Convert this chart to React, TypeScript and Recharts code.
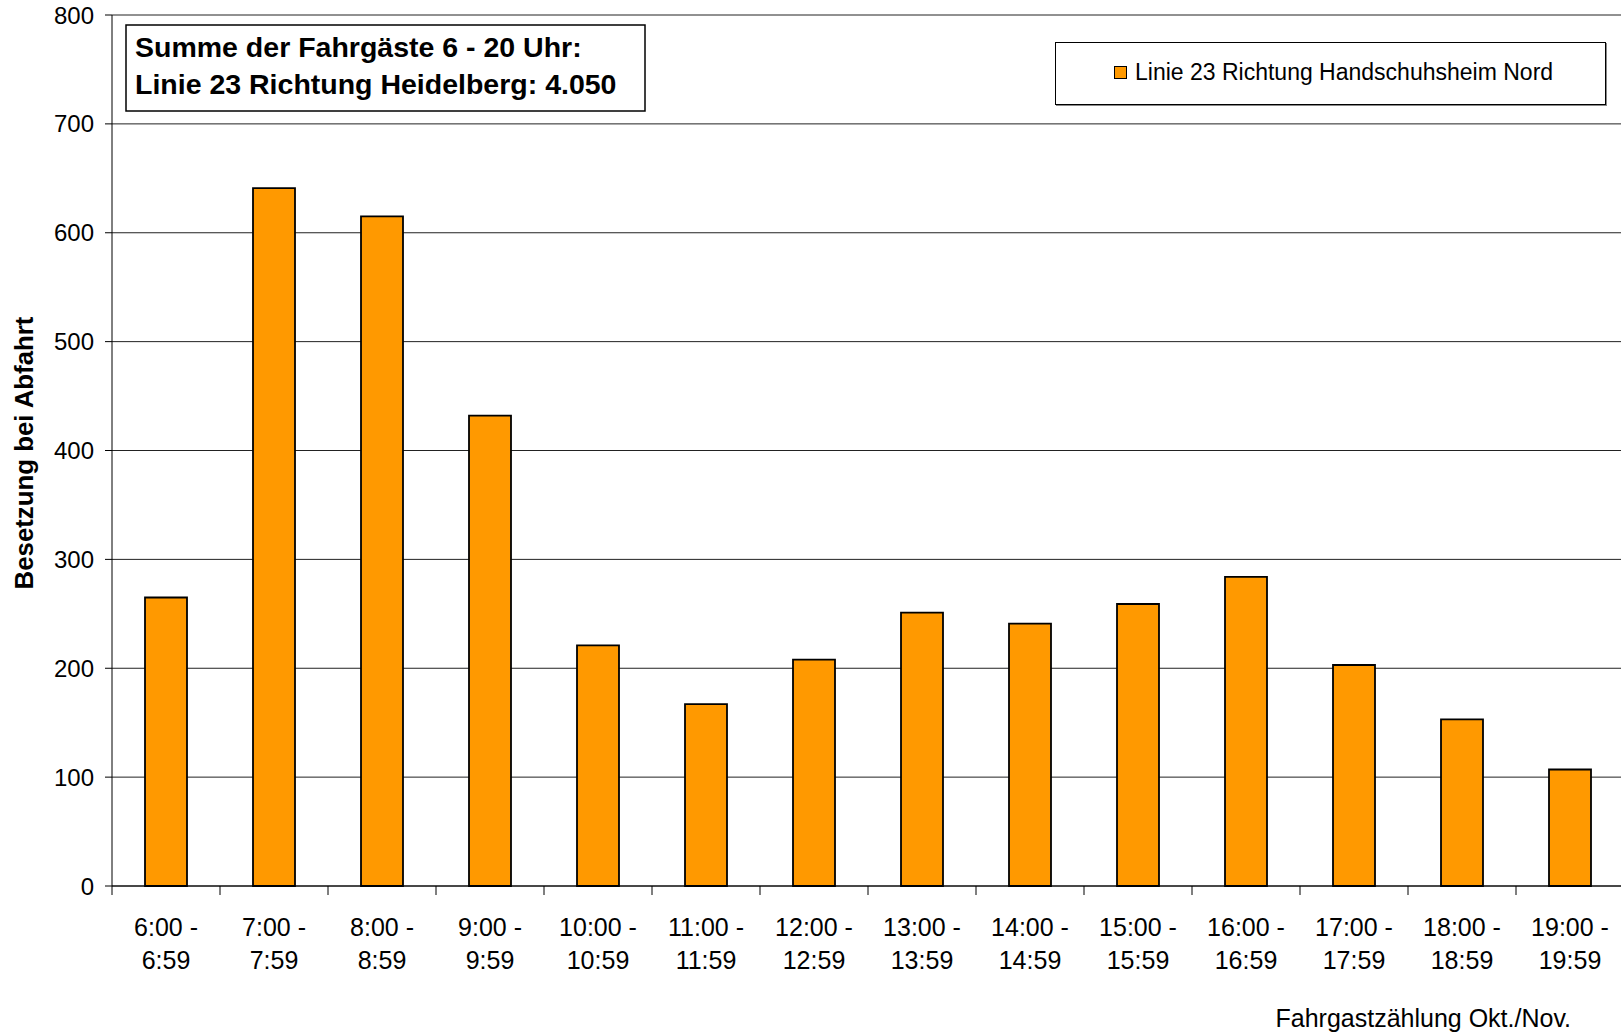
import React from "react";
import {
  BarChart,
  Bar,
  XAxis,
  YAxis,
  CartesianGrid,
  Legend,
  Customized,
} from "recharts";

// Fahrgastzählung Linie 23, Besetzung bei Abfahrt je Stunde
const slotStart = [
  "6:00", "7:00", "8:00", "9:00", "10:00", "11:00", "12:00",
  "13:00", "14:00", "15:00", "16:00", "17:00", "18:00", "19:00",
];
const slotEnd = [
  "6:59", "7:59", "8:59", "9:59", "10:59", "11:59", "12:59",
  "13:59", "14:59", "15:59", "16:59", "17:59", "18:59", "19:59",
];
const occupancy = [265, 641, 615, 432, 221, 167, 208, 251, 241, 259, 284, 203, 153, 107];
const yTicks = [0, 100, 200, 300, 400, 500, 600, 700, 800];

const seriesName = "Linie 23 Richtung Handschuhsheim Nord";
const summaryLines = ["Summe der Fahrgäste 6 - 20 Uhr:", "Linie 23 Richtung Heidelberg: 4.050"];
const yTitle = "Besetzung bei Abfahrt";
const footnote = "Fahrgastzählung Okt./Nov.";

const chartData = slotStart.map((start, i) => ({
  slot: start,
  end: slotEnd[i],
  value: occupancy[i],
}));

const CHART_W = 1621;
const CHART_H = 1032;
const Y_AXIS_W = 112;
const RIGHT_MARGIN = -3;
const HALF_BAND = (CHART_W - Y_AXIS_W - RIGHT_MARGIN) / slotStart.length / 2;
const FONT = '"Liberation Sans", Arial, sans-serif';
const ORANGE = "#FF9900";

const YTick = (props: any) => {
  const { x, y, payload } = props;
  return (
    <text x={x} y={y} dy={8.5} textAnchor="end" fontSize={24} fontFamily={FONT} fill="#000">
      {payload.value}
    </text>
  );
};

const XTick = (props: any) => {
  const { x, y, payload, index } = props;
  const row = chartData[index];
  return (
    <g>
      <line x1={x - HALF_BAND} y1={y} x2={x - HALF_BAND} y2={y + 9} stroke="#000" />
      {index === chartData.length - 1 && (
        <line x1={x + HALF_BAND} y1={y} x2={x + HALF_BAND} y2={y + 9} stroke="#000" />
      )}
      <text x={x} y={y + 50} textAnchor="middle" fontSize={25} fontFamily={FONT} fill="#000">
        {`${payload.value} -`}
      </text>
      <text x={x} y={y + 83} textAnchor="middle" fontSize={25} fontFamily={FONT} fill="#000">
        {row ? row.end : ""}
      </text>
    </g>
  );
};

const renderLegend = (props: any) => {
  const entry = props.payload && props.payload[0];
  return (
    <div
      style={{
        boxSizing: "border-box",
        width: "100%",
        height: "100%",
        border: "1px solid #000",
        boxShadow: "1px 1px 0 #888",
        background: "#fff",
        display: "flex",
        alignItems: "center",
        paddingLeft: 58,
        paddingBottom: 3,
        fontFamily: FONT,
        fontSize: 23,
        color: "#000",
      }}
    >
      <span
        style={{
          display: "inline-block",
          boxSizing: "border-box",
          width: 13,
          height: 13,
          background: ORANGE,
          border: "1px solid #000",
          marginRight: 8,
        }}
      />
      <span>{entry ? entry.value : seriesName}</span>
    </div>
  );
};

const Annotations = () => (
  <g fontFamily={FONT} fill="#000">
    <rect x={126} y={25} width={519} height={86} fill="#fff" stroke="#000" strokeWidth={1.5} />
    <text x={135} y={57} fontSize={28.5} fontWeight="bold">
      {summaryLines[0]}
    </text>
    <text x={135} y={94} fontSize={28.5} fontWeight="bold">
      {summaryLines[1]}
    </text>
    <text
      transform="translate(33, 453) rotate(-90)"
      textAnchor="middle"
      fontSize={25.8}
      fontWeight="bold"
    >
      {yTitle}
    </text>
    <text x={1571} y={1027} textAnchor="end" fontSize={25}>
      {footnote}
    </text>
  </g>
);

export default function App() {
  return (
    <div
      style={{
        position: "absolute",
        left: 0,
        top: 0,
        width: CHART_W,
        height: CHART_H,
        overflow: "hidden",
        background: "#fff",
      }}
    >
      <BarChart
        width={CHART_W}
        height={CHART_H}
        data={chartData}
        margin={{ top: 15, right: RIGHT_MARGIN, bottom: 0, left: 0 }}
      >
        <CartesianGrid vertical={false} stroke="#222" strokeWidth={1} />
        <XAxis
          dataKey="slot"
          height={146}
          interval={0}
          tickSize={0}
          tickMargin={0}
          tickLine={false}
          axisLine={{ stroke: "#000" }}
          tick={<XTick />}
        />
        <YAxis
          width={Y_AXIS_W}
          domain={[0, 800]}
          ticks={yTicks}
          interval={0}
          tickSize={7}
          tickMargin={11}
          axisLine={{ stroke: "#000" }}
          tickLine={{ stroke: "#000" }}
          tick={<YTick />}
        />
        <Legend
          verticalAlign="middle"
          align="center"
          layout="horizontal"
          wrapperStyle={{ left: 1055, top: 42, width: 551, height: 63 }}
          content={renderLegend}
        />
        <Bar
          dataKey="value"
          name={seriesName}
          fill={ORANGE}
          stroke="#000"
          strokeWidth={1.8}
          barSize={42}
          isAnimationActive={false}
        />
        <Customized component={Annotations} />
      </BarChart>
    </div>
  );
}
